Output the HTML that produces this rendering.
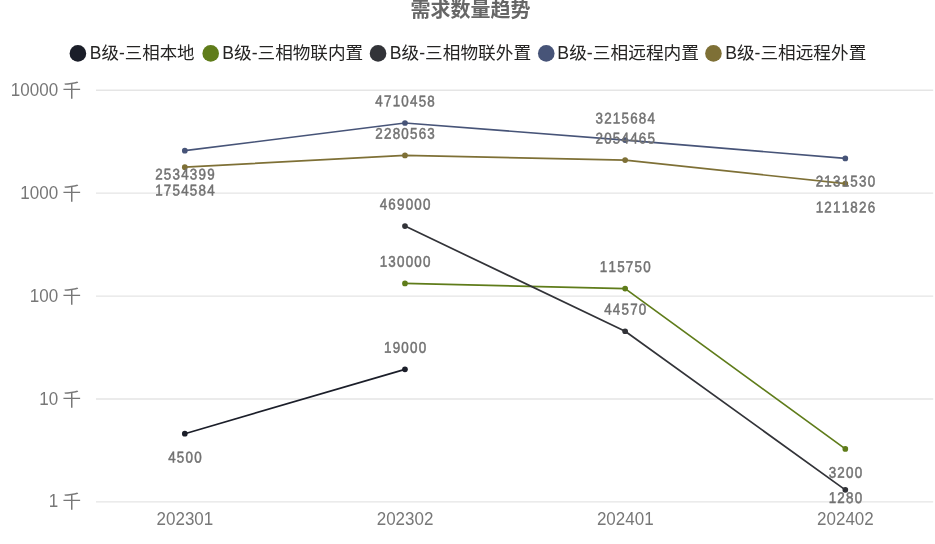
<!DOCTYPE html>
<html lang="zh"><head><meta charset="utf-8"><title>需求数量趋势</title>
<style>html,body{margin:0;padding:0;background:#fff;}body{width:935px;height:544px;overflow:hidden;font-family:"Liberation Sans","Noto Sans CJK SC",sans-serif;}svg{display:block;will-change:transform;}</style>
</head><body>
<svg width="935" height="544" viewBox="0 0 935 544" font-family="'Liberation Sans', 'Noto Sans CJK SC', sans-serif">
<rect width="935" height="544" fill="#fff"/>
<g fill="#666666" aria-label="需求数量趋势"><title>需求数量趋势</title>
<text x="410.6" y="16.5" font-size="20" font-weight="bold" textLength="120" lengthAdjust="spacingAndGlyphs">需求数量趋势</text>
</g>
<circle cx="77.90" cy="53.4" r="8.3" fill="#1b1e29"/>
<g fill="#252423"><title>B级-三相本地</title>
<text x="89.80" y="59" font-size="17.6" textLength="104.8" lengthAdjust="spacingAndGlyphs">B级-三相本地</text>
</g>
<circle cx="210.70" cy="53.4" r="8.3" fill="#5f7c1a"/>
<g fill="#252423"><title>B级-三相物联内置</title>
<text x="222.30" y="59" font-size="17.6" textLength="140.9" lengthAdjust="spacingAndGlyphs">B级-三相物联内置</text>
</g>
<circle cx="378.05" cy="53.4" r="8.3" fill="#323338"/>
<g fill="#252423"><title>B级-三相物联外置</title>
<text x="389.80" y="59" font-size="17.6" textLength="141.3" lengthAdjust="spacingAndGlyphs">B级-三相物联外置</text>
</g>
<circle cx="546.25" cy="53.4" r="8.3" fill="#475478"/>
<g fill="#252423"><title>B级-三相远程内置</title>
<text x="557.35" y="59" font-size="17.6" textLength="141.7" lengthAdjust="spacingAndGlyphs">B级-三相远程内置</text>
</g>
<circle cx="713.45" cy="53.4" r="8.3" fill="#7e7036"/>
<g fill="#252423"><title>B级-三相远程外置</title>
<text x="725.20" y="59" font-size="17.6" textLength="141.1" lengthAdjust="spacingAndGlyphs">B级-三相远程外置</text>
</g>
<g stroke="#e5e5e5" stroke-width="1.3">
<line x1="96.0" x2="933.2" y1="90.25" y2="90.25"/>
<line x1="96.0" x2="933.2" y1="193.2" y2="193.2"/>
<line x1="96.0" x2="933.2" y1="296.15" y2="296.15"/>
<line x1="96.0" x2="933.2" y1="399.0" y2="399.0"/>
<line x1="96.0" x2="933.2" y1="501.85" y2="501.85"/>
</g>
<g fill="#777777" font-size="18.6">
<text x="10.85" y="96.00" textLength="47.25" lengthAdjust="spacingAndGlyphs">10000</text>
<text x="62.4" y="96.6" textLength="18.6" lengthAdjust="spacingAndGlyphs">千</text>
<text x="20.30" y="199.00" textLength="37.80" lengthAdjust="spacingAndGlyphs">1000</text>
<text x="62.4" y="199.6" textLength="18.6" lengthAdjust="spacingAndGlyphs">千</text>
<text x="29.75" y="302.00" textLength="28.35" lengthAdjust="spacingAndGlyphs">100</text>
<text x="62.4" y="302.6" textLength="18.6" lengthAdjust="spacingAndGlyphs">千</text>
<text x="39.20" y="405.00" textLength="18.90" lengthAdjust="spacingAndGlyphs">10</text>
<text x="62.4" y="405.6" textLength="18.6" lengthAdjust="spacingAndGlyphs">千</text>
<text x="48.65" y="507.00" textLength="9.45" lengthAdjust="spacingAndGlyphs">1</text>
<text x="62.4" y="507.5" textLength="18.6" lengthAdjust="spacingAndGlyphs">千</text>
</g>
<g fill="#777777" font-size="18.6">
<text x="156.55" y="525" textLength="56.70" lengthAdjust="spacingAndGlyphs">202301</text>
<text x="376.72" y="525" textLength="56.70" lengthAdjust="spacingAndGlyphs">202302</text>
<text x="596.89" y="525" textLength="56.70" lengthAdjust="spacingAndGlyphs">202401</text>
<text x="817.06" y="525" textLength="56.70" lengthAdjust="spacingAndGlyphs">202402</text>
</g>
<path d="M184.80 433.70 L404.97 369.34" fill="none" stroke="#1b1e29" stroke-width="1.7" stroke-linejoin="round"/>
<circle cx="184.80" cy="433.70" r="2.85" fill="#1b1e29"/>
<circle cx="404.97" cy="369.34" r="2.85" fill="#1b1e29"/>
<path d="M404.97 283.42 L625.14 288.60 L845.31 448.93" fill="none" stroke="#5f7c1a" stroke-width="1.7" stroke-linejoin="round"/>
<circle cx="404.97" cy="283.42" r="2.85" fill="#5f7c1a"/>
<circle cx="625.14" cy="288.60" r="2.85" fill="#5f7c1a"/>
<circle cx="845.31" cy="448.93" r="2.85" fill="#5f7c1a"/>
<path d="M404.97 226.09 L625.14 331.25 L845.31 489.87" fill="none" stroke="#323338" stroke-width="1.7" stroke-linejoin="round"/>
<circle cx="404.97" cy="226.09" r="2.85" fill="#323338"/>
<circle cx="625.14" cy="331.25" r="2.85" fill="#323338"/>
<circle cx="845.31" cy="489.87" r="2.85" fill="#323338"/>
<path d="M184.80 150.71 L404.97 123.02 L625.14 140.07 L845.31 158.44" fill="none" stroke="#475478" stroke-width="1.7" stroke-linejoin="round"/>
<circle cx="184.80" cy="150.71" r="2.85" fill="#475478"/>
<circle cx="404.97" cy="123.02" r="2.85" fill="#475478"/>
<circle cx="625.14" cy="140.07" r="2.85" fill="#475478"/>
<circle cx="845.31" cy="158.44" r="2.85" fill="#475478"/>
<path d="M184.80 167.14 L404.97 155.42 L625.14 160.09 L845.31 183.68" fill="none" stroke="#7e7036" stroke-width="1.7" stroke-linejoin="round"/>
<circle cx="184.80" cy="167.14" r="2.85" fill="#7e7036"/>
<circle cx="404.97" cy="155.42" r="2.85" fill="#7e7036"/>
<circle cx="625.14" cy="160.09" r="2.85" fill="#7e7036"/>
<circle cx="845.31" cy="183.68" r="2.85" fill="#7e7036"/>
<g fill="#727272" stroke="#727272" stroke-width="0.5" font-size="15.6" text-anchor="middle">
<text transform="translate(184.90 462.60) scale(0.86 1) rotate(0.03)" x="-15.14 -5.05 5.05 15.14">4500</text>
<text transform="translate(405.07 352.69) scale(0.86 1) rotate(0.03)" x="-20.19 -10.09 0.00 10.09 20.19">19000</text>
<text transform="translate(405.07 266.77) scale(0.86 1) rotate(0.03)" x="-25.23 -15.14 -5.05 5.05 15.14 25.23">130000</text>
<text transform="translate(625.24 271.95) scale(0.86 1) rotate(0.03)" x="-25.23 -15.14 -5.05 5.05 15.14 25.23">115750</text>
<text transform="translate(845.41 477.83) scale(0.86 1) rotate(0.03)" x="-15.14 -5.05 5.05 15.14">3200</text>
<text transform="translate(405.07 209.44) scale(0.86 1) rotate(0.03)" x="-25.23 -15.14 -5.05 5.05 15.14 25.23">469000</text>
<text transform="translate(625.24 314.60) scale(0.86 1) rotate(0.03)" x="-20.19 -10.09 0.00 10.09 20.19">44570</text>
<text transform="translate(845.41 502.90) scale(0.86 1) rotate(0.03)" x="-15.14 -5.05 5.05 15.14">1280</text>
<text transform="translate(184.90 179.61) scale(0.86 1) rotate(0.03)" x="-30.28 -20.19 -10.09 0.00 10.09 20.19 30.28">2534399</text>
<text transform="translate(405.07 106.37) scale(0.86 1) rotate(0.03)" x="-30.28 -20.19 -10.09 0.00 10.09 20.19 30.28">4710458</text>
<text transform="translate(625.24 123.42) scale(0.86 1) rotate(0.03)" x="-30.28 -20.19 -10.09 0.00 10.09 20.19 30.28">3215684</text>
<text transform="translate(845.41 186.44) scale(0.86 1) rotate(0.03)" x="-30.28 -20.19 -10.09 0.00 10.09 20.19 30.28">2131530</text>
<text transform="translate(184.90 195.54) scale(0.86 1) rotate(0.03)" x="-30.28 -20.19 -10.09 0.00 10.09 20.19 30.28">1754584</text>
<text transform="translate(405.07 138.77) scale(0.86 1) rotate(0.03)" x="-30.28 -20.19 -10.09 0.00 10.09 20.19 30.28">2280563</text>
<text transform="translate(625.24 143.44) scale(0.86 1) rotate(0.03)" x="-30.28 -20.19 -10.09 0.00 10.09 20.19 30.28">2054465</text>
<text transform="translate(845.41 212.58) scale(0.86 1) rotate(0.03)" x="-30.28 -20.19 -10.09 0.00 10.09 20.19 30.28">1211826</text>
</g>
</svg>
</body></html>
